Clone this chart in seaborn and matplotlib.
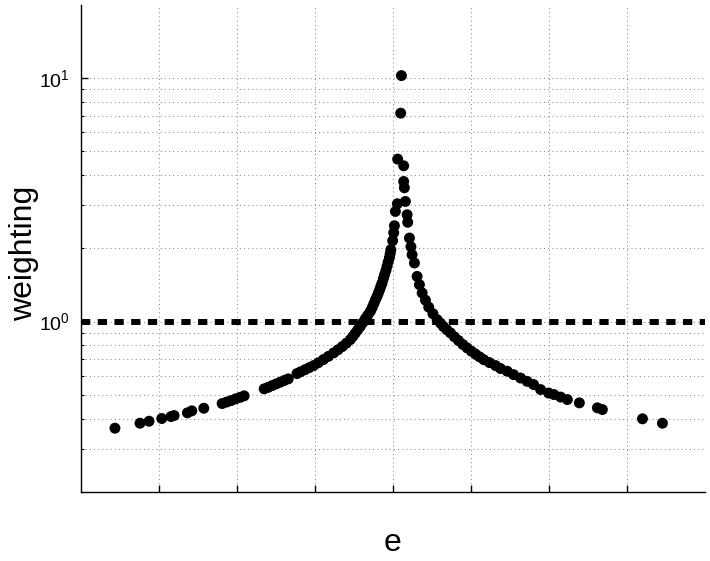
import pandas as pd
import matplotlib
matplotlib.use('Agg')
import matplotlib.pyplot as plt
import matplotlib.ticker as mticker
import seaborn as sns

sns.set_style('ticks')
plt.rcParams['font.family'] = ['Liberation Sans', 'DejaVu Sans']
plt.rcParams['mathtext.fontset'] = 'custom'
plt.rcParams['mathtext.rm'] = 'Liberation Sans'
plt.rcParams['mathtext.it'] = 'Liberation Sans:italic'
plt.rcParams['text.color'] = 'black'
plt.rcParams['axes.labelcolor'] = 'black'
plt.rcParams['xtick.color'] = 'black'
plt.rcParams['ytick.color'] = 'black'

# valores (e, peso)
e_vals = [-3.564, -3.243, -3.127, -2.964, -2.845, -2.806, -2.635, -2.579, -2.425,
          -2.190, -2.132, -2.074, -2.017, -1.959, -1.908,
          -1.651, -1.600, -1.548, -1.497, -1.445, -1.394, -1.343,
          -1.231, -1.182, -1.125, -1.073, -1.018, -0.958, -0.893, -0.829, -0.761,
          -0.705, -0.650, -0.598, -0.547, -0.515, -0.483, -0.451, -0.418, -0.386,
          -0.354, -0.322, -0.290, -0.267, -0.245, -0.226, -0.204, -0.187, -0.171,
          -0.155, -0.140, -0.123, -0.108, -0.091, -0.076, -0.062, -0.046, -0.036,
          -0.027, -0.004, 0.009, 0.018, 0.031, 0.056, 0.060, 0.099, 0.108,
          0.137, 0.137, 0.146, 0.159, 0.181, 0.189, 0.211, 0.230, 0.245, 0.275,
          0.309, 0.339, 0.374, 0.416, 0.458, 0.512, 0.566, 0.608, 0.647, 0.692,
          0.737, 0.788, 0.840, 0.895, 0.951, 1.006, 1.058, 1.109, 1.164, 1.237,
          1.315, 1.379, 1.465, 1.546, 1.635, 1.719, 1.802, 1.892, 1.995, 2.063,
          2.149, 2.235, 2.389, 2.620, 2.684, 3.198, 3.454]
w_vals = [0.3654, 0.383, 0.3903, 0.4004, 0.408, 0.4118, 0.4224, 0.4305, 0.4412,
          0.4613, 0.4678, 0.4745, 0.4822, 0.4890, 0.4960,
          0.5299, 0.5374, 0.5466, 0.5554, 0.5644, 0.5736, 0.5823,
          0.6121, 0.6227, 0.6356, 0.6477, 0.6600, 0.6779, 0.6984, 0.7200, 0.7443,
          0.7663, 0.7900, 0.8155, 0.8437, 0.8695, 0.8972, 0.9264, 0.9566, 0.9915,
          1.029, 1.064, 1.102, 1.141, 1.185, 1.227, 1.270, 1.311, 1.352,
          1.397, 1.441, 1.501, 1.558, 1.618, 1.686, 1.757, 1.829, 1.900,
          1.973, 2.148, 2.316, 2.474, 2.832, 3.045, 4.643, 7.166, 10.22,
          4.359, 3.758, 3.541, 3.112, 2.745, 2.557, 2.203, 2.029, 1.882, 1.740,
          1.533, 1.418, 1.311, 1.225, 1.147, 1.078, 1.019, 0.986, 0.954, 0.925,
          0.899, 0.866, 0.836, 0.806, 0.780, 0.756, 0.736, 0.717, 0.698, 0.679,
          0.660, 0.642, 0.626, 0.606, 0.587, 0.569, 0.552, 0.5264, 0.5093, 0.5021,
          0.4904, 0.4789, 0.4642, 0.4429, 0.4358, 0.3993, 0.383]
referencia = 1.0

df = pd.DataFrame({'e': e_vals, 'weighting': w_vals})

fig = plt.figure(figsize=(7.1, 5.61), dpi=100)
ax = fig.add_axes([0.114, 0.123, 0.879, 0.868])

ax.set_yscale('log')
sns.scatterplot(data=df, x='e', y='weighting', ax=ax, color='black',
                s=62, edgecolor='none', zorder=3)
ax.axhline(referencia, color='black', lw=4.3, ls=(0, (1.55, 1.25)), zorder=4)

ax.set_xlim(-4, 4)
ax.set_ylim(0.2, 19.9)
ax.set_xticks([-3, -2, -1, 0, 1, 2, 3])
ax.set_xticklabels([])
ax.yaxis.set_major_locator(mticker.LogLocator(base=10, numticks=10))
ax.yaxis.set_minor_locator(mticker.LogLocator(base=10, subs=range(2, 10), numticks=10))
ax.yaxis.set_major_formatter(mticker.LogFormatterMathtext())
ax.yaxis.set_minor_formatter(mticker.NullFormatter())

grade = dict(ls=(0, (1, 3)), color='0.55', lw=0.75)
ax.grid(True, which='major', axis='both', **grade)
ax.grid(True, which='minor', axis='y', **grade)
ax.tick_params(which='major', direction='in', length=5, width=1, labelsize=14, pad=8)
ax.tick_params(which='minor', direction='in', length=2.5, width=0.8)

for lado in ['top', 'right']:
    ax.spines[lado].set_visible(False)
for lado in ['left', 'bottom']:
    ax.spines[lado].set_linewidth(1)
    ax.spines[lado].set_color('black')

ax.set_xlabel('e', fontsize=23)
ax.set_ylabel('weighting', fontsize=23)
ax.xaxis.set_label_coords(0.5, -0.074)
ax.yaxis.set_label_coords(-0.067, 0.49)

fig.savefig('out.png', dpi=100)
